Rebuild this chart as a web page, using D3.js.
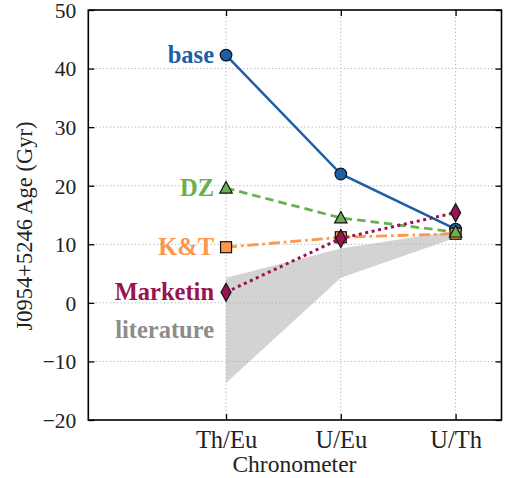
<!DOCTYPE html>
<html>
<head>
<meta charset="utf-8">
<script src="https://cdn.jsdelivr.net/npm/d3@7"></script>
<style>
  html, body { margin: 0; padding: 0; background: #fff; }
  svg { display: block; }
  text { font-family: "Liberation Serif", serif; }
</style>
</head>
<body>
<svg id="chart" width="507" height="478"></svg>
<script>
// ---- data ----
const categories = ["Th/Eu", "U/Eu", "U/Th"];
const baseAges = [42.3, 22.0, 12.6];
const dzAges = [19.6, 14.5, 12.1];
const ktAges = [9.5, 11.2, 11.8];
const marketinAges = [1.8, 11.0, 15.4];
const literatureUpper = [4.3, 9.3, 12.3];
const literatureLower = [-13.7, 4.3, 11.1];
const yTicks = [-20, -10, 0, 10, 20, 30, 40, 50];

// ---- layout ----
const FONT = "Liberation Serif";
const svg = d3.select("#chart");
const L = 88.3, R = 501.5, T = 10, B = 420;
const x = d3.scaleLinear().domain([-1.2, 2.4]).range([L, R]);
const y = d3.scaleLinear().domain([-20, 50]).range([B, T]);
const xi = categories.map((c, i) => i);

// literature band
const band = d3.area()
  .x((d, i) => x(i))
  .y0((d, i) => y(literatureLower[i]))
  .y1((d, i) => y(literatureUpper[i]));
svg.append("path").datum(literatureUpper).attr("d", band).attr("fill", "#d3d3d3");

// grid
const grid = svg.append("g").attr("stroke", "#b0b0b0").attr("stroke-width", 1)
  .attr("stroke-dasharray", "1.2,2.4");
yTicks.forEach(t => {
  if (t === -20 || t === 50) return;
  grid.append("line").attr("x1", L).attr("x2", R).attr("y1", y(t)).attr("y2", y(t));
});
xi.forEach(i => {
  grid.append("line").attr("x1", x(i)).attr("x2", x(i)).attr("y1", T).attr("y2", B);
});

// axes (inward ticks, mirrored)
const axL = svg.append("g").attr("transform", `translate(${L},0)`)
  .call(d3.axisLeft(y).tickValues(yTicks).tickSize(-6).tickPadding(12).tickFormat(d3.format("d")));
const axR = svg.append("g").attr("transform", `translate(${R},0)`)
  .call(d3.axisRight(y).tickValues(yTicks).tickSize(-6).tickFormat(""));
const axB = svg.append("g").attr("transform", `translate(0,${B})`)
  .call(d3.axisBottom(x).tickValues(xi).tickSize(-6).tickPadding(14).tickFormat(i => categories[i]));
const axT = svg.append("g").attr("transform", `translate(0,${T})`)
  .call(d3.axisTop(x).tickValues(xi).tickSize(-6).tickFormat(""));
[axL, axR, axB, axT].forEach(a => {
  a.select(".domain").remove();
  a.selectAll(".tick line").attr("stroke", "#000").attr("stroke-width", 1.3);
  a.selectAll("text").attr("fill", "#222").attr("font-family", FONT);
});
axL.selectAll("text").attr("font-size", 21.5).attr("dy", "0.34em");
axB.selectAll("text").attr("font-size", 24.5).attr("dy", "0.58em");

// frame
svg.append("rect").attr("x", L).attr("y", T).attr("width", R - L).attr("height", B - T)
  .attr("fill", "none").attr("stroke", "#000").attr("stroke-width", 1.6);

// axis labels
svg.append("text").attr("x", (L + R) / 2 - 0.5).attr("y", 472).attr("text-anchor", "middle")
  .attr("font-family", FONT).attr("font-size", 23.5).attr("fill", "#222").text("Chronometer");
svg.append("text").attr("transform", `translate(32,226) rotate(-90)`).attr("text-anchor", "middle")
  .attr("font-family", FONT).attr("font-size", 22.5).attr("fill", "#222").text("J0954+5246 Age (Gyr)");

// series
const line = d3.line().x((d, i) => x(i)).y(d => y(d));
const markers = {
  circle: (g) => g.append("circle").attr("r", 5.8),
  square: (g) => g.append("rect").attr("x", -5.5).attr("y", -5.5).attr("width", 11).attr("height", 11),
  triangle: (g) => g.append("path").attr("d", "M0,-6.5L6.2,5L-6.2,5Z"),
  diamond: (g) => g.append("path").attr("d", "M0,-9L5,0L0,9L-5,0Z")
};
const series = [
  { name: "base", vals: baseAges, color: "#1b5fa8", dash: null, width: 2.5, marker: "circle" },
  { name: "K&T", vals: ktAges, color: "#fd974a", dash: "11,4,2.5,4", width: 2.8, marker: "square" },
  { name: "DZ", vals: dzAges, color: "#6ab04e", dash: "8.5,5", width: 2.8, marker: "triangle" },
  { name: "Marketin", vals: marketinAges, color: "#9a124f", dash: "3,3.6", width: 3, marker: "diamond" }
];
series.forEach(s => {
  svg.append("path").datum(s.vals).attr("d", line).attr("fill", "none")
    .attr("stroke", s.color).attr("stroke-width", s.width)
    .attr("stroke-dasharray", s.dash);
  s.vals.forEach((v, i) => {
    const g = svg.append("g").attr("transform", `translate(${x(i)},${y(v)})`);
    markers[s.marker](g).attr("fill", s.color).attr("stroke", "#111").attr("stroke-width", 1.2);
  });
  svg.append("text").attr("x", x(0) - 12).attr("y", y(s.vals[0])).attr("dy", "0.33em")
    .attr("text-anchor", "end").attr("font-family", FONT).attr("font-weight", "bold").attr("font-size", 24.5)
    .attr("fill", s.color).text(s.name);
});
svg.append("text").attr("x", x(0) - 12).attr("y", y(-4.7)).attr("dy", "0.33em")
  .attr("text-anchor", "end").attr("font-family", FONT).attr("font-weight", "bold").attr("font-size", 24.5)
  .attr("fill", "#8c8c8c").text("literature");
</script>
</body>
</html>
